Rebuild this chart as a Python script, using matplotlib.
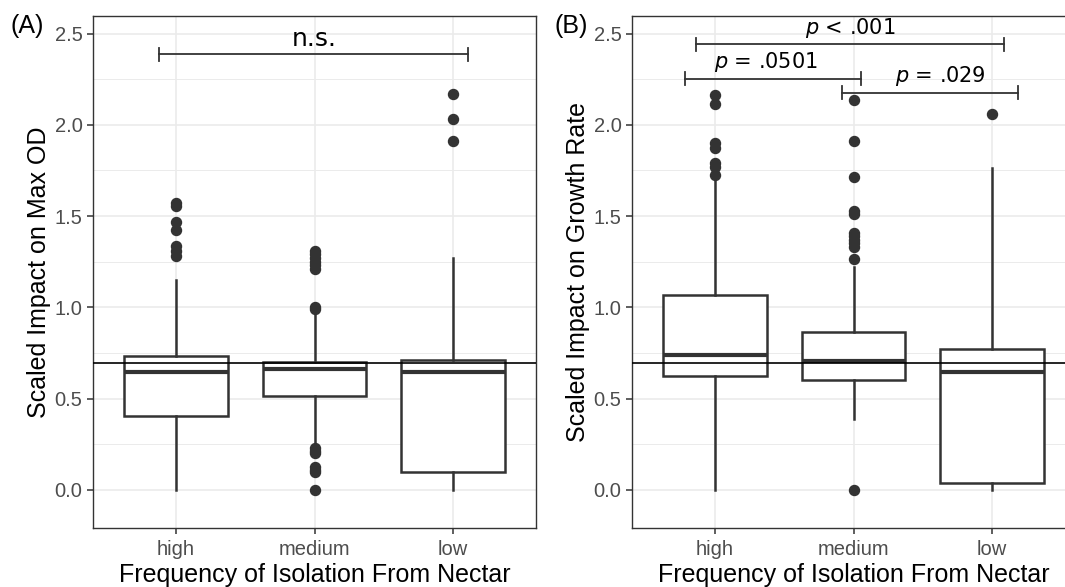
import numpy as np
import matplotlib
matplotlib.use("Agg")
import matplotlib.pyplot as plt
from matplotlib.ticker import MultipleLocator

groups = ["high", "medium", "low"]
ref_line = 0.697

# panel A: scaled impact on max OD (box stats)
od_q1 = [0.407, 0.515, 0.099]
od_med = [0.646, 0.661, 0.647]
od_q3 = [0.731, 0.701, 0.714]
od_lo = [0.0, 0.26, 0.0]
od_hi = [1.152, 0.96, 1.273]
od_fliers = [
    [1.573, 1.557, 1.469, 1.425, 1.337, 1.31, 1.282],
    [1.31, 1.29, 1.27, 1.25, 1.23, 1.21, 1.0, 0.99,
     0.23, 0.215, 0.20, 0.128, 0.11, 0.10, 0.0],
    [2.17, 2.03, 1.91],
]

# panel B: scaled impact on growth rate
gr_q1 = [0.623, 0.604, 0.037]
gr_med = [0.739, 0.705, 0.647]
gr_q3 = [1.066, 0.864, 0.773]
gr_lo = [0.0, 0.388, 0.0]
gr_hi = [1.71, 1.22, 1.764]
gr_fliers = [
    [2.163, 2.112, 1.899, 1.875, 1.789, 1.771, 1.725],
    [2.137, 1.91, 1.712, 1.529, 1.51, 1.41, 1.39, 1.37, 1.35, 1.33, 1.264, 0.0],
    [2.057],
]

# significance brackets: (x left, x right, y, label)
sig_a = [(0.877, 3.11, 2.386, "n.s.")]
sig_b = [
    (0.86, 3.09, 2.44, r"$p$ < .001"),
    (0.78, 2.053, 2.253, r"$p$ = .0501"),
    (1.92, 3.19, 2.176, r"$p$ = .029"),
]
sig_text_x_b = [1.98, 1.365, 2.63]

GRID = "#EBEBEB"
DARK = "#333333"
SANS = ["Liberation Sans", "DejaVu Sans"]
plt.rcParams["font.family"] = SANS

W, H = 1065, 587
fig = plt.figure(figsize=(W / 100, H / 100), dpi=100)


def make_stats(q1, med, q3, lo, hi, fl):
    return [dict(q1=a, med=b, q3=c, whislo=d, whishi=e, fliers=f)
            for a, b, c, d, e, f in zip(q1, med, q3, lo, hi, fl)]


def draw_panel(rect, stats, ylabel):
    ax = fig.add_axes(rect)
    ax.set_xlim(0.4, 3.6)
    ax.set_ylim(-0.21, 2.596)
    ax.yaxis.set_major_locator(MultipleLocator(0.5))
    ax.yaxis.set_minor_locator(MultipleLocator(0.25))
    ax.set_axisbelow(True)
    ax.grid(True, which="major", color=GRID, lw=1.2)
    ax.grid(True, which="minor", axis="y", color=GRID, lw=0.7)
    ax.bxp(stats, positions=[1, 2, 3], widths=0.75, patch_artist=True,
           showcaps=False,
           boxprops=dict(facecolor="white", edgecolor=DARK, lw=1.8),
           whiskerprops=dict(color=DARK, lw=1.8),
           medianprops=dict(color=DARK, lw=3.0, solid_capstyle="butt"),
           flierprops=dict(marker="o", markersize=7.2, markerfacecolor=DARK,
                           markeredgecolor=DARK, lw=0))
    ax.axhline(ref_line, color="black", lw=1.2, zorder=5)
    ax.set_xticks([1, 2, 3])
    ax.set_xticklabels(groups)
    ax.set_yticks([0.0, 0.5, 1.0, 1.5, 2.0, 2.5])
    ax.set_yticklabels(["0.0", "0.5", "1.0", "1.5", "2.0", "2.5"])
    ax.tick_params(which="major", length=4.5, width=1.1, color=DARK,
                   labelsize=14.5, labelcolor="#4D4D4D", pad=3)
    ax.tick_params(axis="x", pad=4)
    ax.tick_params(which="minor", length=0)
    for s in ax.spines.values():
        s.set_color(DARK)
        s.set_linewidth(1.0)
    ax.set_xlabel("Frequency of Isolation From Nectar", fontsize=18, labelpad=3)
    ax.set_ylabel(ylabel, fontsize=18, labelpad=3)
    return ax


def bracket(ax, x0, x1, y, cap=0.036):
    ax.plot([x0, x1], [y, y], color=DARK, lw=1.3, clip_on=False)
    for x in (x0, x1):
        ax.plot([x, x], [y - cap, y + cap], color=DARK, lw=1.3, clip_on=False)


axA = draw_panel([93 / W, 1 - 528.3 / H, 443 / W, 512.3 / H],
                 make_stats(od_q1, od_med, od_q3, od_lo, od_hi, od_fliers),
                 "Scaled Impact on Max OD")
axB = draw_panel([632 / W, 1 - 528.3 / H, 443 / W, 512.3 / H],
                 make_stats(gr_q1, gr_med, gr_q3, gr_lo, gr_hi, gr_fliers),
                 "Scaled Impact on Growth Rate")

for x0, x1, y, lab in sig_a:
    bracket(axA, x0, x1, y)
    axA.text(2.0, y + 0.047, lab, ha="center", va="baseline", fontsize=18,
             family="DejaVu Sans", color="black")

for (x0, x1, y, lab), tx in zip(sig_b, sig_text_x_b):
    bracket(axB, x0, x1, y)
    axB.text(tx, y + 0.058, lab, ha="center", va="baseline", fontsize=15,
             family="DejaVu Sans", color="black")

fig.text(10 / W, 1 - 33 / H, "(A)", fontsize=18, va="baseline", ha="left")
fig.text(554 / W, 1 - 33 / H, "(B)", fontsize=18, va="baseline", ha="left")

fig.savefig("out.png", dpi=100, facecolor="white")
